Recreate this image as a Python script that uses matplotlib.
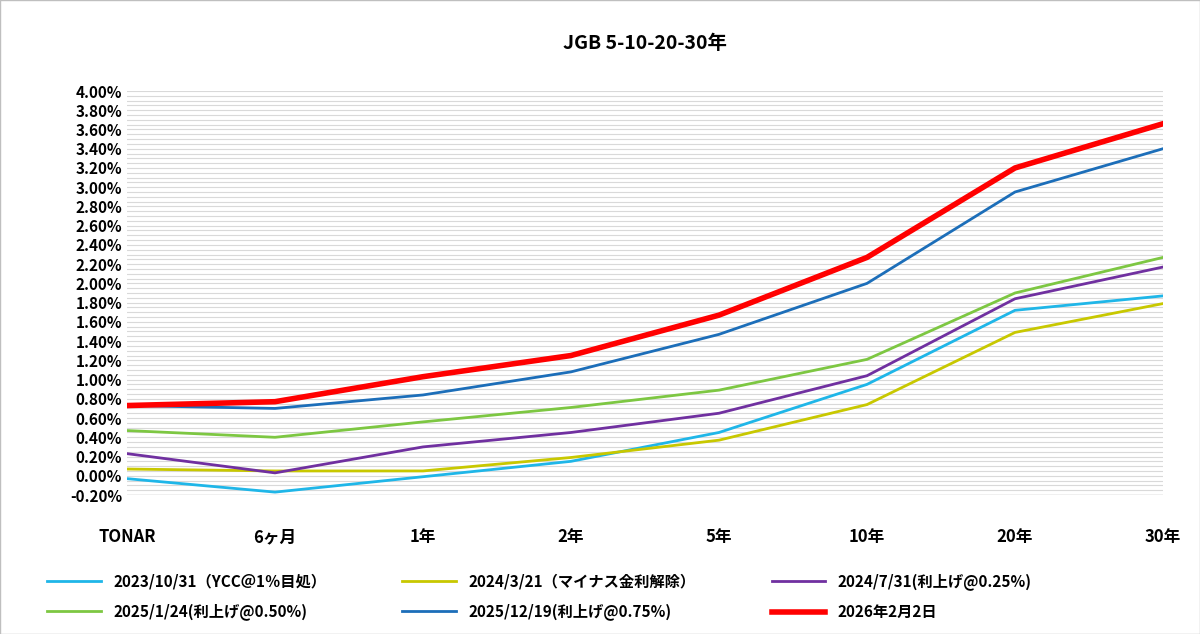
import matplotlib
matplotlib.use("Agg")
import matplotlib.pyplot as plt
import numpy as np

plt.rcParams['font.family'] = ['Noto Sans CJK JP', 'DejaVu Sans']

categories = ["TONAR", "6ヶ月", "1年", "2年", "5年", "10年", "20年", "30年"]
series_names = ["2023/10/31（YCC＠1％目処）", "2024/3/21（マイナス金利解除）", "2024/7/31(利上げ@0.25%)",
                "2025/1/24(利上げ@0.50%)", "2025/12/19(利上げ@0.75%)", "2026年2月2日"]
s_2023 = [-0.03, -0.17, -0.01, 0.15, 0.45, 0.95, 1.72, 1.87]
s_2024a = [0.07, 0.05, 0.05, 0.19, 0.37, 0.74, 1.49, 1.79]
s_2024b = [0.23, 0.03, 0.30, 0.45, 0.65, 1.04, 1.84, 2.17]
s_2025a = [0.47, 0.40, 0.56, 0.71, 0.89, 1.21, 1.90, 2.27]
s_2025b = [0.73, 0.70, 0.84, 1.08, 1.47, 2.00, 2.95, 3.40]
s_2026 = [0.73, 0.77, 1.03, 1.25, 1.67, 2.27, 3.20, 3.66]
yticks = np.round(np.arange(-0.2, 4.01, 0.2), 2)

colors = ["#1FB6E8", "#C8C800", "#7030A0", "#7DC742", "#1C6EB9", "#FF0000"]
widths = [2, 2, 2, 2, 2, 4]
data = [s_2023, s_2024a, s_2024b, s_2025a, s_2025b, s_2026]

fig = plt.figure(figsize=(12, 6.34), dpi=100)
ax = fig.add_axes([127/1200, 1-495/634, (1163-127)/1200, (495-91)/634])
x = np.arange(len(categories))
lines = []
for d, c, w, n in zip(data, colors, widths, series_names):
    lines += ax.plot(x, d, color=c, lw=w, label=n)
ax.set_xlim(0, len(categories)-1)
ax.set_ylim(-0.2, 4.0)
ax.set_yticks(yticks)
ax.set_yticklabels([f"{v:.2f}%" for v in yticks], fontsize=11, fontweight='bold')
ax.set_yticks(np.arange(-0.2, 4.001, 0.05), minor=True)
ax.grid(True, which='both', axis='y', color='#D9D9D9', lw=0.8)
ax.set_xticks(x)
ax.set_xticklabels(categories, fontsize=12, fontweight='bold')
ax.tick_params(axis='x', pad=24, length=0)
ax.tick_params(axis='y', length=0, which='both')
for s in ax.spines.values():
    s.set_visible(False)
ax.axhline(-0.2, color='#BFBFBF', lw=1)
ax.set_title("JGB 5-10-20-30年", fontsize=14, fontweight='bold', pad=30)
order = [0, 3, 1, 4, 2, 5]
fig.legend([lines[i] for i in order], [series_names[i] for i in order],
           loc='lower left', bbox_to_anchor=(0.028, 0.0), ncol=3, frameon=False,
           prop={'size': 11, 'weight': 'bold'}, columnspacing=5, handlelength=3.5,
           labelspacing=0.9)
fig.patches.append(plt.Rectangle((0, 0), 1, 1, transform=fig.transFigure, fill=False, ec='#BFBFBF', lw=1))
fig.savefig("out.png")
